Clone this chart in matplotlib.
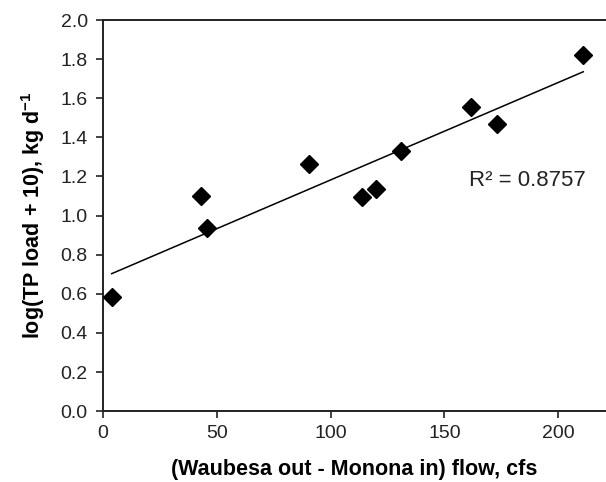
import numpy as np
import matplotlib
matplotlib.use("Agg")
import matplotlib.pyplot as plt

plt.rcParams['font.family'] = ['Liberation Sans', 'DejaVu Sans']
plt.rcParams['mathtext.fontset'] = 'custom'
plt.rcParams['mathtext.rm'] = 'Liberation Sans'
plt.rcParams['mathtext.bf'] = 'Liberation Sans:bold'

flow = [3.8, 42.9, 45.9, 90.5, 113.8, 119.9, 130.8, 161.9, 173.0, 211.0]
log_load = [0.585, 1.10, 0.934, 1.263, 1.096, 1.136, 1.33, 1.557, 1.466, 1.821]
x_ticks = [0, 50, 100, 150, 200]
y_ticks = [0.0, 0.2, 0.4, 0.6, 0.8, 1.0, 1.2, 1.4, 1.6, 1.8, 2.0]
r2_label = "R² = 0.8757"

x = np.array(flow)
y = np.array(log_load)
slope, intercept = np.polyfit(x, y, 1)

fig = plt.figure(figsize=(6.06, 4.82), dpi=100)
ax = fig.add_axes([0.170, 0.147, 0.830, 0.8115])

xl = np.array([x.min(), x.max()])
ax.plot(xl, slope * xl + intercept, color='black', lw=1.1, zorder=2)
ax.plot(x, y, linestyle='none', marker='D', ms=9, color='black', zorder=3)

ax.set_xlim(0, 221)
ax.set_ylim(0, 2.0)
ax.set_xticks(x_ticks)
ax.set_yticks(y_ticks)
ax.set_yticklabels([f"{v:.1f}" for v in y_ticks])
ax.tick_params(direction='out', length=5, width=1.2, labelsize=14, colors='#222222')
ax.tick_params(axis='x', pad=5)
ax.tick_params(axis='y', pad=6)

for s in ['left', 'bottom', 'top']:
    ax.spines[s].set_linewidth(1.4)
    ax.spines[s].set_color('#222222')
ax.spines['right'].set_visible(False)

ax.set_xlabel("(Waubesa out - Monona in) flow, cfs", fontsize=15.5, fontweight='bold', labelpad=12)
ax.set_ylabel(r"log(TP load + 10), kg d$\mathbf{^{-1}}$", fontsize=15.5, fontweight='bold', labelpad=10)

ax.text(161, 1.18, r2_label, fontsize=16, va='center', ha='left', color='#222222')

fig.savefig("out.png", dpi=100)
